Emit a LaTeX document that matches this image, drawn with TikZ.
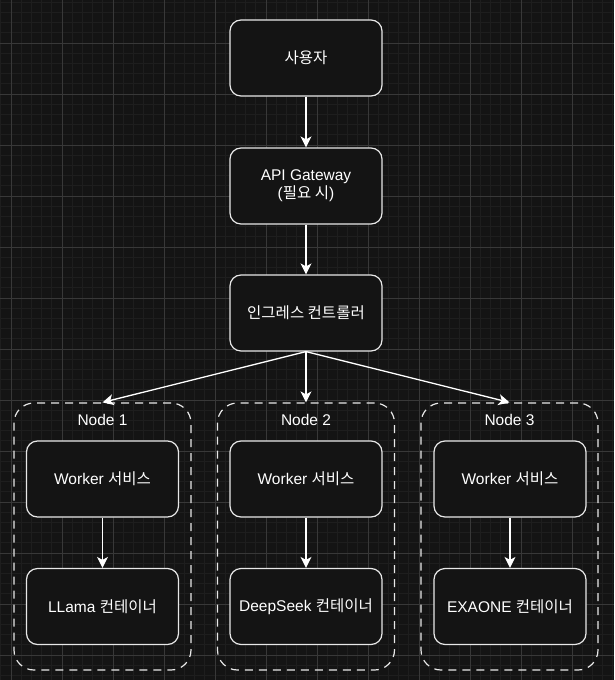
\documentclass[tikz,border=0pt]{standalone}
\usepackage{fontspec}
\setmainfont{Liberation Sans}
\newfontfamily\kr{Noto Sans CJK KR}
\usetikzlibrary{arrows.meta}
\definecolor{bgc}{HTML}{141414}
\definecolor{minorc}{HTML}{1E1E1E}
\definecolor{majorc}{HTML}{383838}
\definecolor{edgec}{HTML}{E8E8E8}
\tikzset{
  box/.style={draw=edgec, fill=bgc, line width=1.2pt, rounded corners=11pt,
    minimum width=152pt, minimum height=76pt, align=center, text=white,
    font=\fontsize{15.5}{18}\selectfont, inner sep=0pt},
  grp/.style={draw=edgec, line width=1.2pt, rounded corners=20pt,
    dash pattern=on 8pt off 6pt, minimum width=177pt, minimum height=267pt, inner sep=0pt},
  glabel/.style={text=white, font=\fontsize{15.5}{18}\selectfont},
  arr/.style={draw=white, line width=1.3pt, -{Stealth[length=11pt,width=11pt,inset=3pt]}},
}
\begin{document}
\begin{tikzpicture}[x=1pt,y=-1pt]
\useasboundingbox (0,0) rectangle (614,680);
\fill[bgc] (0,0) rectangle (614,680);
\foreach \i in {0,...,60} {\draw[minorc, line width=1pt] ({0.8+10.2*\i},0) -- ({0.8+10.2*\i},680);}
\foreach \i in {0,...,66} {\draw[minorc, line width=1pt] (0,{2.2+10.2*\i}) -- (614,{2.2+10.2*\i});}
\foreach \i in {0,...,11} {\draw[majorc, line width=1pt] ({11+51*\i},0) -- ({11+51*\i},680);}
\foreach \i in {0,...,12} {\draw[majorc, line width=1pt] (0,{43+51*\i}) -- (614,{43+51*\i});}

\node[box] (user) at (306,58) {\kr 사용자};
\node[box] (api) at (306,186) {API Gateway\\({\kr 필요 시})};
\node[box] (ing) at (306,313) {\kr 인그레스 컨트롤러};

\node[grp] (g1) at (102.5,536.5) {};
\node[grp] (g2) at (306,536.5) {};
\node[grp] (g3) at (509.5,536.5) {};
\node[glabel] (l1) at (102.5,420) {Node 1};
\node[glabel] (l2) at (306,420) {Node 2};
\node[glabel] (l3) at (509.5,420) {Node 3};

\node[box] (w1) at (102.5,479) {Worker {\kr 서비스}};
\node[box] (w2) at (306,479) {Worker {\kr 서비스}};
\node[box] (w3) at (510,479) {Worker {\kr 서비스}};
\node[box] (c1) at (102.5,606.5) {LLama {\kr 컨테이너}};
\node[box] (c2) at (306,606.5) {DeepSeek {\kr 컨테이너}};
\node[box] (c3) at (510,606.5) {EXAONE {\kr 컨테이너}};

\draw[arr] (user) -- (api);
\draw[arr] (api) -- (ing);
\draw[arr] (ing.south) -- (g1.north);
\draw[arr] (ing.south) -- (g2.north);
\draw[arr] (ing.south) -- (g3.north);
\draw[arr] (w1) -- (c1);
\draw[arr] (w2) -- (c2);
\draw[arr] (w3) -- (c3);
\end{tikzpicture}
\end{document}
